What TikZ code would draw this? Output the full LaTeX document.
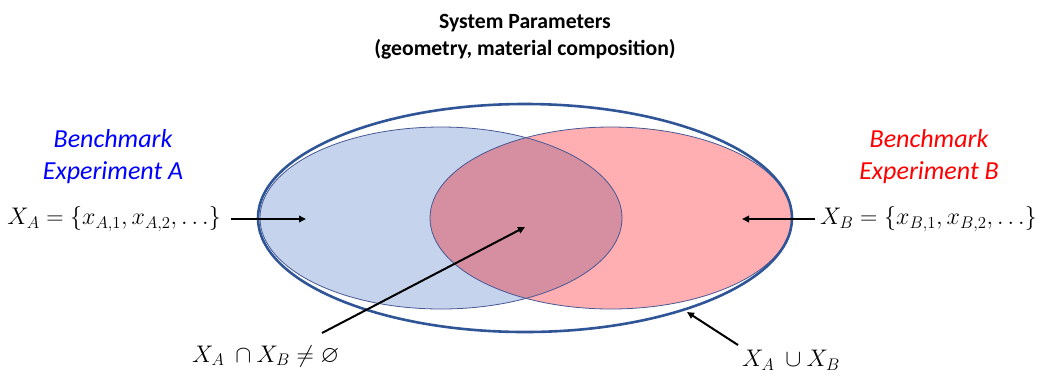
\documentclass[tikz,border=0pt]{standalone}
\usepackage{fix-cm}
\usepackage{amssymb}
\usepackage{fontspec}
\setmainfont{Carlito}
\usetikzlibrary{arrows.meta}
\definecolor{unionLine}{RGB}{47,85,151}
\definecolor{setAfill}{RGB}{197,211,236}
\definecolor{setBfill}{RGB}{255,174,177}
\definecolor{setABfill}{RGB}{213,143,160}
\definecolor{setEdge}{RGB}{70,88,150}
\definecolor{benchA}{RGB}{0,0,255}
\definecolor{benchB}{RGB}{255,0,0}

\begin{document}
\begin{tikzpicture}[x=1pt,y=-1pt,
  outer/.style={unionLine,line width=2.6pt},
  edge/.style={setEdge,line width=0.8pt},
  pointer/.style={black,line width=2pt,-{Triangle[length=7pt,width=6.5pt]}},
  bench/.style={align=center,font=\itshape\fontsize{26}{32}\selectfont},
  setlabel/.style={inner sep=0pt,font=\fontsize{24}{28}\selectfont}]
\useasboundingbox (0,0) rectangle (1043,376);
\coordinate (cA) at (441,218);
\coordinate (cB) at (611,218);
\coordinate (cU) at (525,218);
% set fills
\fill[setAfill] (cA) ellipse [x radius=181,y radius=91];
\fill[setBfill] (cB) ellipse [x radius=181,y radius=91];
\begin{scope}
  \clip (cA) ellipse [x radius=181,y radius=91];
  \fill[setABfill] (cB) ellipse [x radius=181,y radius=91];
\end{scope}
\draw[edge] (cA) ellipse [x radius=181,y radius=91];
\draw[edge] (cB) ellipse [x radius=181,y radius=91];
\draw[outer] (cU) ellipse [x radius=267,y radius=114];
% texts
\node[align=center,font=\bfseries\fontsize{21.7}{27}\selectfont] (title) at (525,37)
  {System Parameters\\(geometry, material composition)};
\node[bench,benchA] (benchAtxt) at (113,157) {Benchmark\\Experiment A};
\node[bench,benchB] (benchBtxt) at (929,157) {Benchmark\\Experiment B};
\node[setlabel,anchor=east] (setA) at (221,219) {$X_A=\{x_{A,1},x_{A,2},\dots\}$};
\node[setlabel,anchor=west] (setB) at (820,219) {$X_B=\{x_{B,1},x_{B,2},\dots\}$};
\node[setlabel,anchor=west] (inter) at (192,356) {$X_A\ \cap X_B\neq\varnothing$};
\node[setlabel,anchor=west] (union) at (742,360) {$X_A\ \cup X_B$};
% pointers
\coordinate (tipA) at (306,219);
\coordinate (tipB) at (742,219);
\coordinate (tipAB) at (525,227);
\coordinate (tailAB) at (322,333);
\coordinate (tipU) at (687,312);
\coordinate (tailU) at (738,345);
\draw[pointer] (setA.east) ++(10,0) coordinate (tailA) -- (tipA);
\draw[pointer] (setB.west) ++(-5,0) coordinate (tailB) -- (tipB);
\draw[pointer] (tailAB) -- (tipAB);
\draw[pointer] (tailU) -- (tipU);
\end{tikzpicture}
\end{document}
